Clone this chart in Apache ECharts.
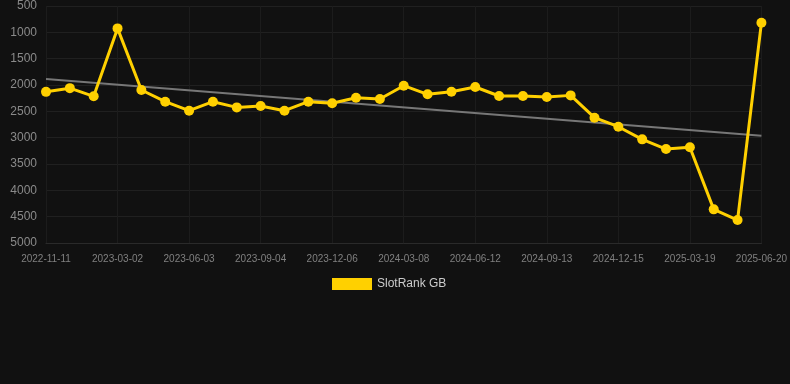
<!DOCTYPE html>
<html>
<head>
<meta charset="utf-8">
<script src="https://cdn.jsdelivr.net/npm/echarts@6/dist/echarts.min.js"></script>
<style>
html,body{margin:0;padding:0;background:#111111;}
#chart{width:790px;height:384px;}
</style>
</head>
<body>
<div id="chart"></div>
<script>
var categories = [
  "2022-11-11","2022-12-18","2023-01-24","2023-03-02","2023-04-02","2023-05-03",
  "2023-06-03","2023-07-04","2023-08-04","2023-09-04","2023-10-05","2023-11-05",
  "2023-12-06","2024-01-06","2024-02-06","2024-03-08","2024-04-08","2024-05-10",
  "2024-06-12","2024-07-13","2024-08-13","2024-09-13","2024-10-14","2024-11-14",
  "2024-12-15","2025-01-15","2025-02-16","2025-03-19","2025-04-19","2025-05-20",
  "2025-06-20"
];
var rankValues = [
  2130, 2060, 2215, 925, 2095, 2317,
  2488, 2317, 2425, 2400, 2488, 2317,
  2348, 2241, 2266, 2013, 2177, 2127,
  2038, 2209, 2209, 2228, 2197, 2621,
  2792, 3032, 3216, 3183, 4361, 4564,
  817
];
var trendStart = 1887;
var trendEnd = 2963;
var yTicks = {min: 500, max: 5000, interval: 500};

var chart = echarts.init(document.getElementById('chart'), null, {renderer: 'canvas'});
chart.setOption({
  backgroundColor: '#111111',
  animation: false,
  textStyle: {fontFamily: 'Liberation Sans, Arial, sans-serif'},
  grid: {left: 46, right: 28, top: 6, bottom: 141, containLabel: false},
  legend: {
    data: ['SlotRank GB'],
    top: 273,
    left: 327,
    icon: 'rect',
    itemWidth: 40,
    itemHeight: 12,
    itemGap: 10,
    textStyle: {color: '#cccccc', fontSize: 12}
  },
  xAxis: {
    type: 'category',
    data: categories,
    boundaryGap: false,
    axisLine: {show: true, lineStyle: {color: '#2a2a2a'}},
    axisTick: {show: false},
    axisLabel: {color: '#808080', fontSize: 10, interval: 2, margin: 11},
    splitLine: {show: true, interval: 2, lineStyle: {color: '#1c1c1c'}}
  },
  yAxis: {
    type: 'value',
    inverse: true,
    min: yTicks.min,
    max: yTicks.max,
    interval: yTicks.interval,
    axisLine: {show: false},
    axisTick: {show: false},
    axisLabel: {color: '#8a8a8a', fontSize: 12, margin: 9, formatter: function (v) { return String(v); }},
    splitLine: {show: true, lineStyle: {color: '#202020'}}
  },
  series: [
    {
      name: 'Trend',
      type: 'line',
      data: [[categories[0], trendStart], [categories[categories.length - 1], trendEnd]],
      symbol: 'none',
      lineStyle: {color: '#777777', width: 2},
      itemStyle: {color: '#777777'},
      silent: true,
      z: 1
    },
    {
      name: 'SlotRank GB',
      type: 'line',
      data: rankValues,
      symbol: 'circle',
      symbolSize: 10,
      lineStyle: {color: '#ffd000', width: 3},
      itemStyle: {color: '#ffd000'},
      z: 2
    }
  ]
});
</script>
</body>
</html>
